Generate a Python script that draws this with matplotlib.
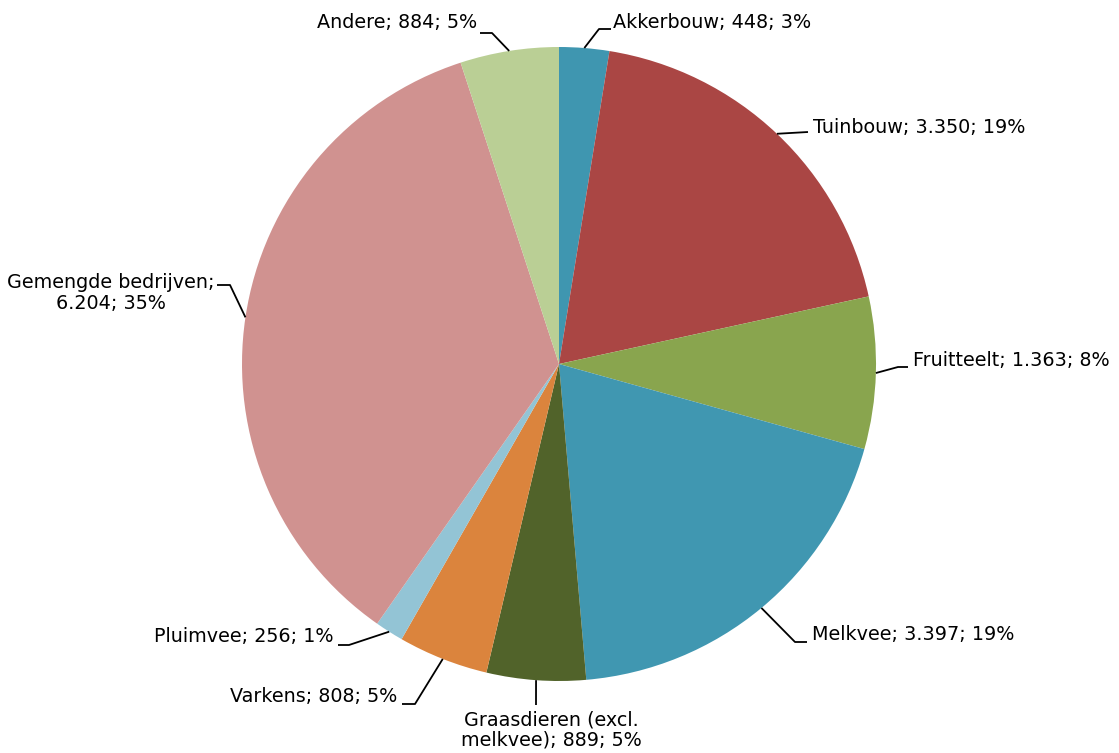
"""Pie chart: bedrijven per type (recreation)."""
import numpy as np
import matplotlib.pyplot as plt

label_text = ["Akkerbouw; 448; 3%", "Tuinbouw; 3.350; 19%",
              "Fruitteelt; 1.363; 8%", "Melkvee; 3.397; 19%",
              "Graasdieren (excl.\nmelkvee); 889; 5%", "Varkens; 808; 5%",
              "Pluimvee; 256; 1%", "Gemengde bedrijven;\n6.204; 35%",
              "Andere; 884; 5%"]
values = np.array([448, 3350, 1363, 3397, 889, 808, 256, 6204, 884])
colors = ["#3F96B0", "#AA4644", "#89A54E", "#4097B1", "#51632A",
          "#DB843D", "#93C4D5", "#D09290", "#BACF95"]

W, H = 1119, 753
CX, CY, R = 559, 364, 317

# leader elbows and text anchors, in pixels (y down)
layout = [
    dict(elbow=[(599, 29), (611, 29)], text=(613, 22), ha="left"),
    dict(elbow=[(808, 132)], text=(813, 127), ha="left"),
    dict(elbow=[(898, 367), (908, 367)], text=(913, 360), ha="left"),
    dict(elbow=[(795, 642), (807, 642)], text=(812, 634), ha="left"),
    dict(elbow=[(536, 705)], text=(551, 730), ha="center"),
    dict(elbow=[(415, 704), (402, 704)], text=(397, 696), ha="right"),
    dict(elbow=[(349, 645), (338, 645)], text=(333, 637), ha="right"),
    dict(elbow=[(230, 285), (217, 285)], text=(111, 293), ha="center"),
    dict(elbow=[(492, 33), (480, 33)], text=(477, 22), ha="right"),
]

fig = plt.figure(figsize=(W / 100, H / 100), dpi=100)
ax = fig.add_axes([0, 0, 1, 1])

ax.pie(values, colors=colors, startangle=90, counterclock=False,
       center=(CX, H - CY), radius=R, wedgeprops=dict(linewidth=0),
       frame=True)
ax.set_xlim(0, W)
ax.set_ylim(0, H)
ax.set_aspect("equal")
ax.axis("off")

frac = values / values.sum()
mid = np.cumsum(frac) - frac / 2
for i, f in enumerate(mid):
    ang = np.deg2rad(90 - 360 * f)
    ex, ey = CX + R * np.cos(ang), CY - R * np.sin(ang)
    pts = [(ex, ey)] + layout[i]["elbow"]
    ax.plot([p[0] for p in pts], [H - p[1] for p in pts],
            color="black", lw=1.3, solid_capstyle="butt")
    tx, ty = layout[i]["text"]
    ax.text(tx, H - ty, label_text[i], ha=layout[i]["ha"], va="center",
            multialignment="center", fontsize=13.8, color="black",
            family="DejaVu Sans", linespacing=1.12)

fig.savefig("out.png", dpi=100)
